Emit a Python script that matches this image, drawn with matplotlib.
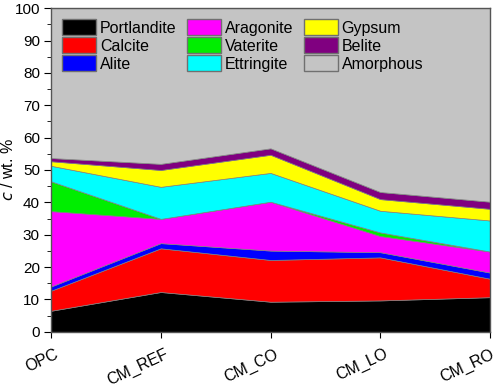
import matplotlib
matplotlib.use("Agg")
import matplotlib.pyplot as plt
import matplotlib.transforms as mtransforms
import numpy as np

samples = ["OPC", "CM_REF", "CM_CO", "CM_LO", "CM_RO"]
phases = ["Portlandite", "Calcite", "Alite", "Aragonite", "Vaterite",
          "Ettringite", "Gypsum", "Belite", "Amorphous"]
portlandite = [6.5, 12.3, 9.3, 9.7, 10.7]
calcite = [6.2, 13.5, 12.9, 13.3, 5.7]
alite = [1.3, 1.6, 2.9, 1.6, 1.9]
aragonite = [23.3, 7.5, 15.1, 5.0, 6.5]
vaterite = [9.2, 0.0, 0.0, 1.1, 0.0]
ettringite = [4.8, 9.9, 8.9, 6.7, 9.6]
gypsum = [1.4, 5.2, 5.6, 3.6, 3.6]
belite = [1.0, 1.9, 2.0, 2.2, 2.2]
crystalline = [portlandite, calcite, alite, aragonite, vaterite, ettringite, gypsum, belite]
amorphous = list(100 - np.sum(np.array(crystalline), axis=0))
colors = ["#000000", "#FF0000", "#0000FF", "#FF00FF", "#00EE00",
          "#00FFFF", "#FFFF00", "#800080", "#C4C4C4"]

plt.rcParams['font.family'] = ['Liberation Sans', 'DejaVu Sans']
fig = plt.figure(figsize=(4.98, 3.89), dpi=100)
ax = fig.add_axes([0.1024, 0.147, 0.8816, 0.832])
x = np.arange(len(samples))
ax.stackplot(x, *crystalline, amorphous, labels=phases, colors=colors,
             edgecolor="#808080", linewidth=0.5)
ax.set_xlim(0, len(samples) - 1)
ax.set_ylim(0, 100)
ax.set_yticks(np.arange(0, 101, 10))
ax.set_yticks(np.arange(5, 100, 10), minor=True)
ax.tick_params(axis='y', which='major', direction='out', length=5, labelsize=11, pad=3)
ax.tick_params(axis='y', which='minor', direction='out', length=3)
ax.tick_params(axis='x', direction='out', length=4.5, pad=3.5)
ax.set_xticks(x)
ax.set_xticklabels(samples, rotation=25, ha="right", va="top",
                   rotation_mode="anchor", fontsize=11.5)
labels = ax.get_xticklabels()
for i, lab in enumerate(labels):
    dx = 2.8 if i < len(labels) - 1 else 0.3
    offset = mtransforms.ScaledTranslation(dx / 72, -2.5 / 72, fig.dpi_scale_trans)
    lab.set_transform(lab.get_transform() + offset)
for s in ax.spines.values():
    s.set_color("#555555")
    s.set_linewidth(1.0)
ax.set_ylabel("$c$ / wt. %", fontsize=11.5)
ax.yaxis.set_label_coords(-0.08, 0.5)
leg = ax.legend(loc="upper left", ncol=3, frameon=False, fontsize=11.5,
                handlelength=2.13, handleheight=1.1, columnspacing=0.65,
                labelspacing=0.12, handletextpad=0.25, borderaxespad=0,
                bbox_to_anchor=(0.01, 0.985))
for h in leg.legend_handles:
    h.set_edgecolor("#707070")
    h.set_linewidth(1.0)
fig.savefig("out.png", dpi=100)
